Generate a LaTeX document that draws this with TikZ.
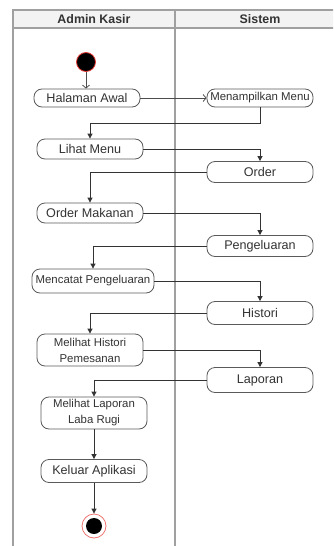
\documentclass[tikz,border=0pt]{standalone}
\usepackage{fontspec}
\setmainfont{Liberation Sans}
\usetikzlibrary{arrows.meta,positioning,calc}
\definecolor{edge}{HTML}{5A5A5A}
\definecolor{lanegray}{HTML}{A0A0A0}
\definecolor{headfill}{HTML}{F3F3F3}
\definecolor{txt}{HTML}{333333}
\definecolor{ringred}{HTML}{E53935}
\tikzset{action/.style={draw=edge,fill=white,line width=0.8pt,rounded corners=8pt,align=center,font=\fontsize{12.6}{15}\selectfont,text=txt,minimum width=106pt,minimum height=20pt,inner sep=1pt}, small/.style={font=\fontsize{11.4}{16}\selectfont}, flow/.style={-{Triangle[length=5pt,width=5pt]},line width=0.8pt,draw=black!80}, openflow/.style={-{Straight Barb[length=3pt,width=7pt]},line width=0.8pt,draw=black!70}, lane/.style={draw=lanegray,line width=1.2pt}}

\begin{document}
\begin{tikzpicture}[x=1pt,y=-1pt]
\useasboundingbox (0,0) rectangle (333,546);
\clip (0,0) rectangle (333,546);
% swimlanes
\fill[headfill] (13,10) rectangle (345,28);
\draw[lane] (13,560) -- (13,10) -- (345,10) (13,28) -- (345,28) (175,10) -- (175,560);
\node[font=\bfseries\fontsize{12.4}{14}\selectfont,text=txt] (hk) at (94,19) {Admin Kasir};
\node[font=\bfseries\fontsize{12.4}{14}\selectfont,text=txt] (hs0) at (260,19) {Sistem};
% start and end
\node[circle,fill=black,draw=ringred,line width=0.8pt,minimum size=19pt,inner sep=0pt] (st) at (86,62) {};
\node[circle,fill=white,draw=ringred!70,line width=0.8pt,minimum size=24pt,inner sep=0pt] (en) at (94,526) {};
\fill[black] (en.center) circle (8);
% actions
\node[action,minimum height=18pt] (ha) at (87,98) {Halaman Awal};
\node[action,small,minimum height=18pt] (mm) at (260,98) {Menampilkan Menu};
\node[action] (lm) at (90,149) {Lihat Menu};
\node[action,minimum height=21pt] (or) at (260,172) {Order};
\node[action] (om) at (90,213) {Order Makanan};
\node[action,minimum height=21pt] (pg) at (260,246) {Pengeluaran};
\node[action,small,minimum width=122pt,minimum height=24pt] (mp) at (93,281) {Mencatat Pengeluaran};
\node[action,minimum height=23pt] (hi) at (260,313) {Histori};
\node[action,small,minimum height=32pt] (mh) at (90,350) {Melihat Histori\\Pemesanan};
\node[action,minimum height=25pt] (lp) at (260,380) {Laporan};
\node[action,small,minimum height=32pt] (ml) at (94,413) {Melihat Laporan\\Laba Rugi};
\node[action,minimum height=23pt] (ka) at (94,471) {Keluar Aplikasi};
% connectors
\draw[openflow] (st) -- (st|-ha.north);
\draw[openflow] (ha) -- (mm);
\draw[flow] (mm.south) -- ++(0,16) -| (lm.north);
\draw[flow] (lm.east) -| (or.north);
\draw[flow] (or.west) -| (om.north);
\draw[flow] (om.east) -| (pg.north);
\draw[flow] (pg.west) -| (mp.north);
\draw[flow] (mp.east) -| (hi.north);
\draw[flow] (hi.west) -| (mh.north);
\draw[flow] (mh.east) -| (lp.north);
\draw[flow] (lp.west) -| (ml.north);
\draw[flow] (ml) -- (ka);
\draw[flow] (ka) -- (en);
\end{tikzpicture}
\end{document}
